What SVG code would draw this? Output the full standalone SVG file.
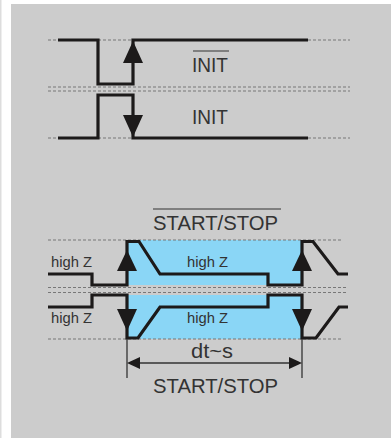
<svg xmlns="http://www.w3.org/2000/svg" width="391" height="438" viewBox="0 0 391 438">
<style>
.bg{fill:#cccccc}
.dash{stroke:#777;stroke-width:1;stroke-dasharray:3 2;fill:none}
.sig{stroke:#1c1a1a;stroke-width:3.2;fill:none;stroke-linejoin:miter;stroke-linecap:butt}
.tri{fill:#1c1a1a}
.blue{fill:#8ad6f6}
.t{font-family:"Liberation Sans",Arial,sans-serif;fill:#333;}
.big{font-size:19.5px}
.sm{font-size:15px}
.bar{stroke:#333;stroke-width:1.2}
.dim{stroke:#333;stroke-width:1.3;fill:none}
</style>
<rect x="0" y="0" width="391" height="438" fill="#fff"/>
<rect x="0" y="0" width="1.5" height="438" fill="#ddd"/>
<rect class="bg" x="11" y="4" width="380" height="434"/>

<g id="init-diagram">
  <g id="init-guides">
    <line class="dash" x1="48" y1="40" x2="350" y2="40"/>
    <line class="dash" x1="48" y1="87" x2="350" y2="87"/>
    <line class="dash" x1="48" y1="91" x2="350" y2="91"/>
    <line class="dash" x1="48" y1="138" x2="350" y2="138"/>
  </g>
  <g id="init-bar-signal">
    <polyline class="sig" points="58,40 98,40 98,84 133,84 133,40 308,40"/>
    <polygon class="tri" points="133,41 123,63 143,63"/>
    <text class="t big" x="192" y="72" textLength="36" lengthAdjust="spacingAndGlyphs">INIT</text>
    <line class="bar" x1="193" y1="51" x2="229" y2="51"/>
  </g>
  <g id="init-signal">
    <polyline class="sig" points="58,138 98,138 98,95 133,95 133,138 308,138"/>
    <polygon class="tri" points="123,115 143,115 133,137"/>
    <text class="t big" x="192" y="124" textLength="36" lengthAdjust="spacingAndGlyphs">INIT</text>
  </g>
</g>

<g id="startstop-diagram">
  <rect class="blue" x="127" y="240" width="175" height="45"/>
  <rect class="blue" x="127" y="295" width="175" height="44"/>
  <g id="ss-guides">
    <line class="dash" x1="48" y1="240" x2="343" y2="240"/>
    <line class="dash" x1="48" y1="287.5" x2="348" y2="287.5"/>
    <line class="dash" x1="48" y1="292.5" x2="348" y2="292.5"/>
    <line class="dash" x1="48" y1="339" x2="343" y2="339"/>
  </g>
  <g id="ss-bar-signal">
    <text class="t big" x="153" y="230" textLength="125" lengthAdjust="spacingAndGlyphs">START/STOP</text>
    <line class="bar" x1="153" y1="209" x2="281" y2="209"/>
    <polyline class="sig" points="48,274 92,274 92,285 127,285 127,241.5 139,241.5 160,274 268,274 268,285 302,285 302,241.5 313,241.5 338,274 348,274"/>
    <polygon class="tri" points="127,250 117,271 137,271"/>
    <polygon class="tri" points="302,250 292,271 312,271"/>
    <text class="t sm" x="51" y="267" textLength="41" lengthAdjust="spacingAndGlyphs">high Z</text>
    <text class="t sm" x="187" y="267" textLength="41" lengthAdjust="spacingAndGlyphs">high Z</text>
  </g>
  <g id="ss-signal">
    <polyline class="sig" points="48,307 92,307 92,295 127,295 127,338 138,338 160,307 268,307 268,295 302,295 302,338 316,338 339,307 348,307"/>
    <polygon class="tri" points="117,309 137,309 127,331"/>
    <polygon class="tri" points="292,309 312,309 302,331"/>
    <text class="t sm" x="51" y="323" textLength="41" lengthAdjust="spacingAndGlyphs">high Z</text>
    <text class="t sm" x="187" y="323" textLength="41" lengthAdjust="spacingAndGlyphs">high Z</text>
  </g>
  <g id="ss-dimension">
    <line class="dim" x1="127" y1="339" x2="127" y2="378"/>
    <line class="dim" x1="302" y1="339" x2="302" y2="378"/>
    <line class="dim" x1="138" y1="363" x2="291" y2="363"/>
    <polygon class="tri" points="127,363 140,357 140,369"/>
    <polygon class="tri" points="302,363 289,357 289,369"/>
    <text class="t big" x="191" y="358" textLength="42" lengthAdjust="spacingAndGlyphs">dt~s</text>
    <text class="t big" x="153" y="393" textLength="125" lengthAdjust="spacingAndGlyphs">START/STOP</text>
  </g>
</g>
</svg>
